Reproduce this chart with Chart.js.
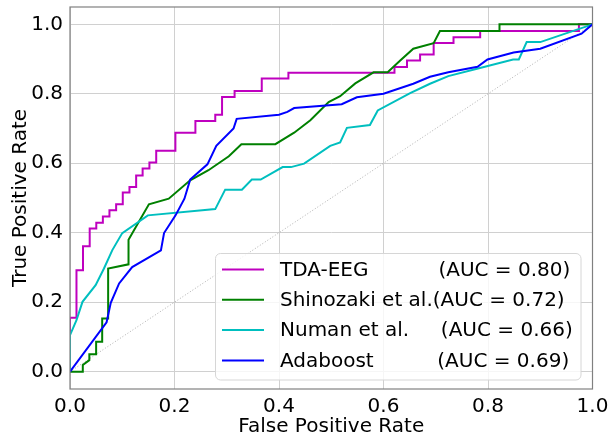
<!DOCTYPE html>
<html>
<head>
<meta charset="utf-8">
<script src="https://cdn.jsdelivr.net/npm/chart.js@4.4.0/dist/chart.umd.min.js"></script>
<style>
html,body{margin:0;padding:0;background:#fff;}
#wrap{width:608px;height:434px;}
</style>
</head>
<body>
<div id="wrap"><canvas id="c" width="608" height="434"></canvas></div>
<script>
// ---- data ----
const seriesNames = ['TDA-EEG', 'Shinozaki et al.', 'Numan et al.', 'Adaboost'];
const legendLabels = ['TDA-EEG           (AUC = 0.80)', 'Shinozaki et al.(AUC = 0.72)', 'Numan et al.     (AUC = 0.66)', 'Adaboost          (AUC = 0.69)'];

const tdaFpr = [0,0,0.0124,0.0124,0.0249,0.0249,0.0377,0.0377,0.0503,0.0503,0.0629,0.0629,0.0755,0.0755,0.0883,0.0883,0.101,0.101,0.1138,0.1138,0.1266,0.1266,0.139,0.139,0.152,0.152,0.165,0.165,0.2017,0.2017,0.240,0.240,0.278,0.278,0.291,0.291,0.315,0.315,0.367,0.367,0.418,0.418,0.621,0.621,0.645,0.645,0.670,0.670,0.696,0.696,0.734,0.734,0.785,0.785,0.974,0.974,1];
const tdaTpr = [0,0.155,0.155,0.292,0.292,0.361,0.361,0.412,0.412,0.429,0.429,0.447,0.447,0.465,0.465,0.482,0.482,0.516,0.516,0.532,0.532,0.565,0.565,0.585,0.585,0.602,0.602,0.636,0.636,0.688,0.688,0.722,0.722,0.740,0.740,0.791,0.791,0.808,0.808,0.844,0.844,0.861,0.861,0.877,0.877,0.896,0.896,0.913,0.913,0.946,0.946,0.963,0.963,0.981,0.981,1,1];

const shinFpr = [0,0.0245,0.0245,0.037,0.037,0.050,0.050,0.0616,0.0616,0.073,0.073,0.112,0.112,0.151,0.189,0.230,0.265,0.304,0.328,0.393,0.429,0.460,0.495,0.517,0.546,0.581,0.608,0.632,0.657,0.696,0.708,0.822,0.822,1];
const shinTpr = [0,0,0.019,0.033,0.050,0.050,0.086,0.086,0.153,0.153,0.297,0.309,0.380,0.482,0.498,0.551,0.580,0.620,0.655,0.655,0.688,0.724,0.776,0.793,0.830,0.862,0.862,0.896,0.930,0.946,0.981,0.981,1,1];

const numanFpr = [0,0,0.0124,0.0239,0.049,0.065,0.081,0.100,0.149,0.278,0.297,0.329,0.348,0.365,0.407,0.423,0.448,0.498,0.517,0.530,0.574,0.589,0.651,0.689,0.724,0.779,0.848,0.859,0.874,0.900,1];
const numanTpr = [0,0.105,0.148,0.201,0.249,0.297,0.350,0.399,0.450,0.468,0.524,0.524,0.553,0.553,0.589,0.589,0.599,0.650,0.660,0.702,0.710,0.752,0.802,0.829,0.851,0.872,0.899,0.899,0.949,0.949,1];

const adaFpr = [0,0.070,0.078,0.094,0.119,0.174,0.180,0.202,0.219,0.230,0.263,0.280,0.313,0.319,0.400,0.416,0.429,0.520,0.549,0.600,0.657,0.689,0.724,0.780,0.799,0.849,0.900,0.979,1];
const adaTpr = [0,0.142,0.198,0.254,0.301,0.349,0.399,0.450,0.498,0.553,0.597,0.650,0.700,0.728,0.740,0.748,0.759,0.770,0.790,0.800,0.829,0.849,0.862,0.878,0.899,0.919,0.930,0.973,1];

const chanceFpr = [0, 1];
const chanceTpr = [0, 1];

const xTicks = [0, 0.2, 0.4, 0.6, 0.8, 1.0];
const xTickLabels = ['0.0', '0.2', '0.4', '0.6', '0.8', '1.0'];
const yTicks = [0, 0.2, 0.4, 0.6, 0.8, 1.0];
const yTickLabels = ['0.0', '0.2', '0.4', '0.6', '0.8', '1.0'];

const colors = ['#bf00bf', '#008000', '#00bfbf', '#0000ff'];

// ---- build ----
function pts(xs, ys) { return xs.map((x, i) => ({x: x, y: ys[i]})); }
const FONT = "'DejaVu Sans', sans-serif";

const seriesData = [pts(tdaFpr, tdaTpr), pts(shinFpr, shinTpr), pts(numanFpr, numanTpr), pts(adaFpr, adaTpr)];
const datasets = seriesData.map((d, i) => ({
  label: seriesNames[i],
  data: d,
  borderColor: colors[i],
  backgroundColor: colors[i],
  borderWidth: 2,
  pointRadius: 0,
  tension: 0,
  fill: false,
  order: 3 - i
}));
datasets.push({
  label: 'chance',
  data: pts(chanceFpr, chanceTpr),
  borderColor: '#9a9a9a',
  borderWidth: 0.8,
  borderDash: [1, 2],
  pointRadius: 0,
  fill: false,
  order: 10
});

const framePlugin = {
  id: 'frameLegend',
  afterDatasetsDraw(chart) {
    const ctx = chart.ctx;
    const a = chart.chartArea;
    ctx.save();
    ctx.strokeStyle = '#808080';
    ctx.lineWidth = 1.2;
    ctx.strokeRect(a.left, a.top, a.right - a.left, a.bottom - a.top);

    // legend box (lower right)
    const bx = 215.5, by = 253.5, bw = 365.5, bh = 126.5, r = 5;
    ctx.beginPath();
    ctx.moveTo(bx + r, by);
    ctx.lineTo(bx + bw - r, by);
    ctx.arcTo(bx + bw, by, bx + bw, by + r, r);
    ctx.lineTo(bx + bw, by + bh - r);
    ctx.arcTo(bx + bw, by + bh, bx + bw - r, by + bh, r);
    ctx.lineTo(bx + r, by + bh);
    ctx.arcTo(bx, by + bh, bx, by + bh - r, r);
    ctx.lineTo(bx, by + r);
    ctx.arcTo(bx, by, bx + r, by, r);
    ctx.closePath();
    ctx.fillStyle = 'rgba(255,255,255,0.8)';
    ctx.fill();
    ctx.strokeStyle = '#d6d6d6';
    ctx.lineWidth = 1;
    ctx.stroke();

    ctx.font = '20px ' + FONT;
    ctx.textBaseline = 'middle';
    ctx.textAlign = 'left';
    for (let i = 0; i < legendLabels.length; i++) {
      const y = 269.5 + i * 30.3;
      ctx.strokeStyle = colors[i];
      ctx.lineWidth = 2;
      ctx.beginPath();
      ctx.moveTo(222, y);
      ctx.lineTo(264, y);
      ctx.stroke();
      ctx.fillStyle = '#000';
      ctx.fillText(legendLabels[i], 280, y + 1);
    }
    ctx.restore();
  }
};

new Chart(document.getElementById('c'), {
  type: 'line',
  data: { datasets: datasets },
  plugins: [framePlugin],
  options: {
    responsive: false,
    animation: false,
    devicePixelRatio: 1,
    layout: { padding: { left: 0, right: 15.5, top: 7, bottom: 0 } },
    plugins: { legend: { display: false }, tooltip: { enabled: false }, title: { display: false } },
    scales: {
      x: {
        type: 'linear',
        min: 0, max: 1,
        afterBuildTicks: (s) => { s.ticks = xTicks.map(v => ({value: v})); },
        afterFit: (s) => { s.height = 45; s.paddingLeft = 0; s.paddingRight = 0; },
        ticks: {
          autoSkip: false, maxRotation: 0,
          padding: 6,
          color: '#000',
          font: { family: FONT, size: 20 },
          callback: (v, i) => xTickLabels[i]
        },
        grid: { color: '#d0d0d0', lineWidth: 1, drawTicks: false },
        border: { display: false },
        title: {
          display: true, text: 'False Positive Rate', color: '#000',
          font: { family: FONT, size: 20, lineHeight: 0.7 },
          padding: { top: 0, bottom: 0 }
        }
      },
      y: {
        type: 'linear',
        min: -0.05, max: 1.05,
        afterBuildTicks: (s) => { s.ticks = yTicks.map(v => ({value: v})); },
        afterFit: (s) => { s.width = 70; s.paddingTop = 0; s.paddingBottom = 0; },
        ticks: {
          autoSkip: false,
          padding: 7,
          color: '#000',
          font: { family: FONT, size: 20 },
          callback: (v, i) => yTickLabels[i]
        },
        grid: { color: '#d0d0d0', lineWidth: 1, drawTicks: false },
        border: { display: false },
        title: {
          display: true, text: 'True Positive Rate', color: '#000',
          font: { family: FONT, size: 20, lineHeight: 1.0 },
          padding: { top: 11, bottom: 0 }
        }
      }
    }
  }
});
</script>
</body>
</html>
